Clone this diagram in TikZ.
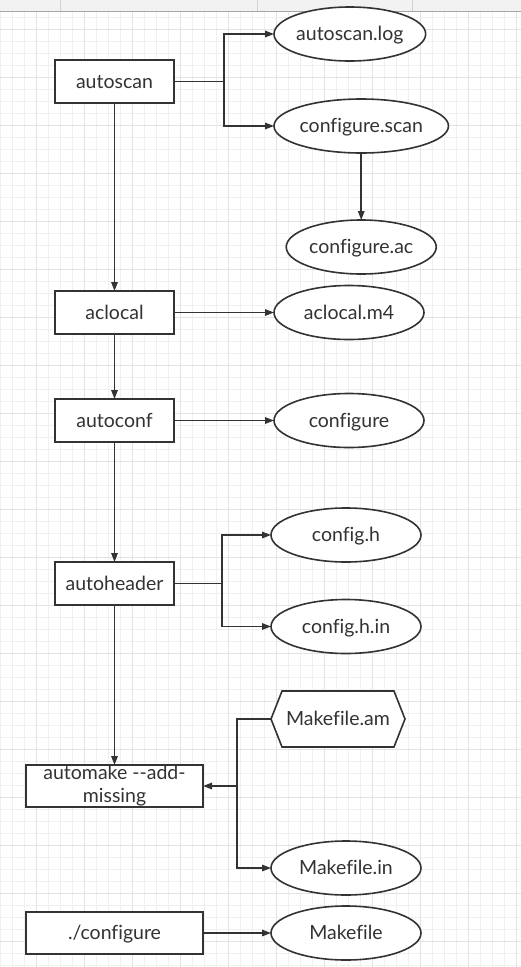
\documentclass[tikz,border=0pt]{standalone}
\usepackage{fontspec}
\setmainfont{Lato}[Ligatures={NoCommon}]
\usetikzlibrary{shapes.geometric,shapes.symbols,arrows.meta,positioning,calc}
\definecolor{inkgray}{HTML}{333333}
\definecolor{gridminor}{HTML}{F0F0F0}
\definecolor{gridmajor}{HTML}{E3E3E3}
\definecolor{barfill}{HTML}{F2F2F2}
\tikzset{
  labeltext/.style={font=\fontsize{19.5}{22}\selectfont, text=inkgray, text height=15pt, text depth=2pt},
  toolbox/.style={labeltext, draw=inkgray, line width=1.6pt, outer sep=0pt, fill=white, minimum width=119pt, minimum height=43pt, inner sep=0pt, align=center},
  widebox/.style={toolbox, minimum width=177pt, minimum height=42pt},
  fileoval/.style={labeltext, ellipse, draw=inkgray, line width=1.6pt, outer sep=0pt, fill=white, minimum width=150pt, minimum height=54pt, inner sep=0pt},
  filehex/.style={labeltext, signal, signal to=west and east, signal pointer angle=137, draw=inkgray, line width=1.6pt, outer sep=0pt, fill=white, minimum width=134pt, minimum height=56pt, inner sep=0pt},
  flowarrow/.style={-{Triangle[length=9pt,width=6.5pt]}, draw=inkgray, line width=1.5pt},
  flowline/.style={draw=inkgray, line width=1.5pt},
}
\begin{document}
\begin{tikzpicture}[x=1pt, y=-1pt]
  \useasboundingbox (0,0) rectangle (521,967);
  % Canvas grid
  \fill[white] (0,0) rectangle (521,967);
  \foreach \gx in {0,12,...,516} \draw[gridminor, line width=0.8pt] (\gx,11) -- (\gx,967);
  \foreach \gy in {17,29,...,965} \draw[gridminor, line width=0.8pt] (0,\gy) -- (521,\gy);
  \foreach \gx in {36,84,...,516} \draw[gridmajor, line width=0.8pt] (\gx,11) -- (\gx,967);
  \foreach \gy in {29,77,...,965} \draw[gridmajor, line width=0.8pt] (0,\gy) -- (521,\gy);

  % Tool bar strip
  \fill[barfill] (0,0) rectangle (521,11);
  \foreach \bx in {60,257,412} \draw[black!18, line width=0.8pt] (\bx,0) -- (\bx,11);
  \draw[black!35, line width=1pt] (0,11) -- (521,11);

  % Tools (left column)
  \node[toolbox] (autoscan) at (114.5,81.5) {autoscan};
  \node[toolbox, below=188pt of autoscan] (aclocal) {aclocal};
  \node[toolbox, below=65pt of aclocal] (autoconf) {autoconf};
  \node[toolbox, below=120pt of autoconf] (autoheader) {autoheader};
  \node[widebox, text height=, text depth=, below=160pt of autoheader] (automake) {automake -\kern0pt-add-\\[1pt]missing};
  \node[widebox, below=105pt of automake] (runconf) {./configure};

  % Files (right column)
  \node[fileoval, right=100pt of autoscan, yshift=47.5pt] (scanlog) {autoscan.log};
  \node[fileoval, right=100pt of autoscan, yshift=-44.5pt] (scanout) {configure.scan};
  \node[fileoval, below=67pt of scanout] (confac) {configure.ac};
  \node[fileoval, right=100pt of aclocal] (aclocalm4) {aclocal.m4};
  \node[fileoval, right=100pt of autoconf] (confscript) {configure};
  \node[fileoval, right=97pt of autoheader, yshift=48.5pt] (configh) {config.h};
  \node[fileoval, right=97pt of autoheader, yshift=-43pt] (confighin) {config.h.in};
  \node[filehex, right=68pt of automake, yshift=67pt] (makeam) {Makefile.am};
  \node[fileoval, right=68pt of automake, yshift=-82pt] (makein) {Makefile.in};
  \node[fileoval, right=68pt of runconf] (makefile) {Makefile};

  % Main chain
  \draw[flowarrow] (autoscan) -- (aclocal);
  \draw[flowarrow] (aclocal) -- (autoconf);
  \draw[flowarrow] (autoconf) -- (autoheader);
  \draw[flowarrow] (autoheader) -- (automake);

  % Outputs
  \coordinate (scanfork) at ($(autoscan.east)+(50,0)$);
  \draw[flowline] (autoscan.east) -- (scanfork);
  \draw[flowarrow] (scanfork) |- (scanlog.west);
  \draw[flowarrow] (scanfork) |- (scanout.west);
  \draw[flowarrow] (scanout) -- (confac);
  \draw[flowarrow] (aclocal) -- (aclocalm4);
  \draw[flowarrow] (autoconf) -- (confscript);
  \coordinate (headfork) at ($(autoheader.east)+(48,0)$);
  \draw[flowline] (autoheader.east) -- (headfork);
  \draw[flowarrow] (headfork) |- (configh.west);
  \draw[flowarrow] (headfork) |- (confighin.west);
  \coordinate (amfork) at ($(automake.east)+(34,0)$);
  \draw[flowline] (makeam.west) -| (amfork);
  \draw[flowarrow] (amfork) |- (makein.west);
  \draw[flowarrow] (amfork) -- (automake.east);
  \draw[flowarrow] (runconf) -- (makefile);
\end{tikzpicture}
\end{document}
